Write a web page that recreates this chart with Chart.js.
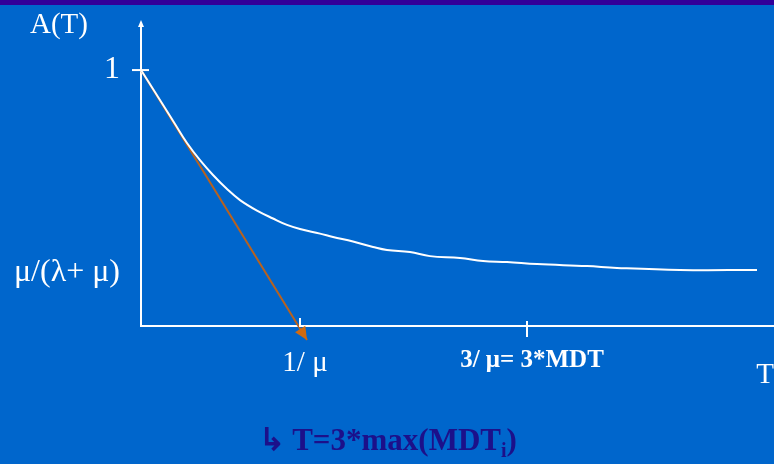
<!DOCTYPE html>
<html>
<head>
<meta charset="utf-8">
<script src="https://cdn.jsdelivr.net/npm/chart.js@4/dist/chart.umd.min.js"></script>
<style>
  html, body { margin:0; padding:0; background:#0066CC; width:774px; height:464px; overflow:hidden; }
  #topbar { position:absolute; left:0; top:0; width:774px; height:5px; background:#330099; }
  #wrap { position:absolute; left:0; top:0; width:774px; height:464px; }
  #ylab { position:absolute; left:30px; top:7px; color:#fff; font:29px 'Liberation Serif', serif; }
  #note { position:absolute; left:259px; top:421px; color:#1C108A; font:bold 31px 'Liberation Serif', serif; white-space:nowrap; }
  #note sub { font-size:20px; }
</style>
</head>
<body>
<div id="topbar"></div>
<div id="wrap"><canvas id="c" width="774" height="464"></canvas></div>
<div id="ylab">A(T)</div>
<div id="note">↳ T=3*max(MDT<sub>i</sub>)</div>
<script>
// ---- data ----
const curveT = [0, 24, 34, 46, 59, 72, 86, 99, 116, 132, 146, 159, 179, 192, 212, 232, 246, 269, 289, 319, 342, 366, 396, 446, 476, 539, 616];
const curveA = [1.0, 0.852, 0.789, 0.715, 0.648, 0.590, 0.535, 0.492, 0.451, 0.420, 0.395, 0.379, 0.361, 0.348, 0.330, 0.309, 0.297, 0.289, 0.273, 0.266, 0.254, 0.250, 0.242, 0.234, 0.227, 0.219, 0.219];
const tangentT = [0, 166];
const tangentA = [1.0, -0.055];
const xTickValues = [159, 386];
const xTickLabels = ['1/ μ', '3/ μ= 3*MDT'];
const yTickValues = [0.207, 1];
const yTickLabels = ['μ/(λ+ μ)', '1'];
const xAxisTitle = 'T';

const curveData = curveT.map((t, i) => ({x: t, y: curveA[i]}));
const tangentData = tangentT.map((t, i) => ({x: t, y: tangentA[i]}));

const decor = {
  id: 'decor',
  afterDatasetsDraw(chart) {
    const ctx = chart.ctx;
    const xs = chart.scales.x, ys = chart.scales.y;
    const x0 = xs.getPixelForValue(0);
    const yBottom = ys.getPixelForValue(0);
    ctx.save();
    ctx.strokeStyle = '#ffffff';
    ctx.fillStyle = '#ffffff';
    ctx.lineWidth = 2;
    // y axis arrow tip
    const yTop = chart.chartArea.top;
    ctx.beginPath();
    ctx.moveTo(x0, yTop - 4);
    ctx.lineTo(x0 - 3, yTop + 3);
    ctx.lineTo(x0 + 3, yTop + 3);
    ctx.closePath();
    ctx.fill();
    // y tick at 1
    const y1 = ys.getPixelForValue(yTickValues[1]);
    ctx.beginPath();
    ctx.moveTo(x0 - 9, y1); ctx.lineTo(x0 + 8, y1);
    ctx.stroke();
    // x ticks
    const xa = xs.getPixelForValue(xTickValues[0]);
    ctx.beginPath();
    ctx.moveTo(xa, yBottom - 8); ctx.lineTo(xa, yBottom + 1);
    ctx.stroke();
    const xb = xs.getPixelForValue(xTickValues[1]);
    ctx.beginPath();
    ctx.moveTo(xb, yBottom - 5); ctx.lineTo(xb, yBottom + 11);
    ctx.stroke();
    // tangent arrowhead
    const last = tangentData[tangentData.length - 1];
    const first = tangentData[0];
    const tx = xs.getPixelForValue(last.x), ty = ys.getPixelForValue(last.y);
    const fx = xs.getPixelForValue(first.x), fy = ys.getPixelForValue(first.y);
    const ang = Math.atan2(ty - fy, tx - fx);
    const L = 13, W = 6;
    ctx.fillStyle = '#D06A10';
    ctx.beginPath();
    ctx.moveTo(tx, ty);
    ctx.lineTo(tx - L * Math.cos(ang) + W * Math.sin(ang), ty - L * Math.sin(ang) - W * Math.cos(ang));
    ctx.lineTo(tx - L * Math.cos(ang) - W * Math.sin(ang), ty - L * Math.sin(ang) + W * Math.cos(ang));
    ctx.closePath();
    ctx.fill();
    ctx.restore();
  }
};

new Chart(document.getElementById('c'), {
  type: 'scatter',
  data: {
    datasets: [
      { label: 'A(T)', data: curveData, showLine: true, borderColor: '#ffffff', borderWidth: 2,
        pointRadius: 0, tension: 0.4, fill: false, clip: false },
      { label: 'tangent', data: tangentData, showLine: true, borderColor: '#B8621E', borderWidth: 2,
        pointRadius: 0, tension: 0, fill: false, clip: false }
    ]
  },
  options: {
    responsive: false,
    animation: false,
    events: [],
    layout: { padding: { top: 24, right: 0, left: 0, bottom: 0 } },
    plugins: { legend: { display: false }, tooltip: { enabled: false }, title: { display: false } },
    scales: {
      x: {
        type: 'linear', min: 0, max: 633,
        afterFit(s) { s.height = 138; s.paddingLeft = 0; s.paddingRight = 0; },
        afterBuildTicks(s) { s.ticks = xTickValues.map(v => ({ value: v })); },
        grid: { display: false },
        border: { display: true, color: '#ffffff', width: 2 },
        ticks: {
          color: '#ffffff',
          padding: 12,
          maxRotation: 0, autoSkip: false,
          labelOffset: 5,
          font: (ctx) => ctx.index === 1
            ? { family: "'Liberation Serif', serif", size: 25, weight: 'bold' }
            : { family: "'Liberation Serif', serif", size: 29 },
          callback: (v, i) => xTickLabels[i]
        },
        title: {
          display: true, text: xAxisTitle, align: 'end', color: '#ffffff',
          font: { family: "'Liberation Serif', serif", size: 29 },
          padding: { top: 0, bottom: 71 }
        }
      },
      y: {
        type: 'linear', min: 0, max: 1.18,
        afterFit(s) { s.width = 141; s.paddingTop = 0; s.paddingBottom = 0; },
        afterBuildTicks(s) { s.ticks = yTickValues.map(v => ({ value: v })); },
        grid: { display: false },
        border: { display: true, color: '#ffffff', width: 2 },
        ticks: {
          color: '#ffffff',
          padding: 13,
          autoSkip: false,
          font: { family: "'Liberation Serif', serif", size: 32 },
          callback: (v, i) => yTickLabels[i]
        }
      }
    }
  },
  plugins: [decor]
});
</script>
</body>
</html>
